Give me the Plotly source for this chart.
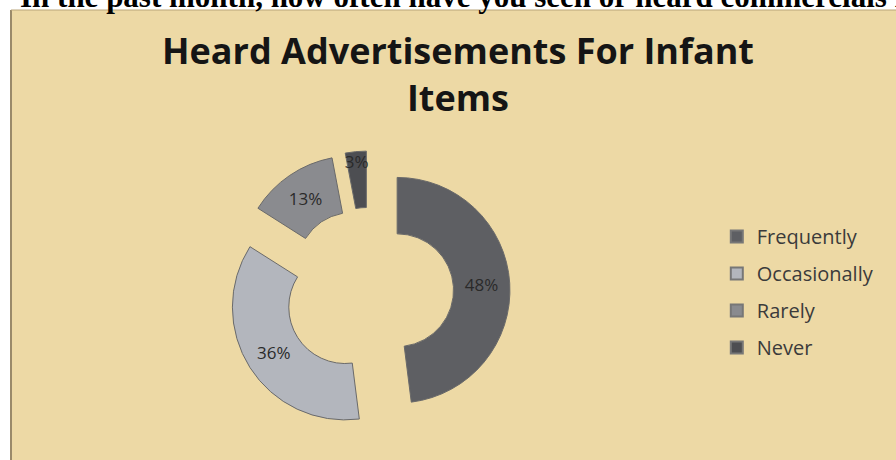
import plotly.graph_objects as go

# Survey answers and their shares (percent)
labels = ["Frequently", "Occasionally", "Rarely", "Never"]
shares = [48, 36, 13, 3]
slice_colors = ["#5e5f63", "#b3b6bd", "#8a8b8f", "#4d4e52"]
title_text = "Heard Advertisements For Infant<br>Items"
question_text = "In the past month, how often have you seen or heard commercials for infant items?"

W, H = 896, 460
PARCHMENT = "#edd9a5"

fig = go.Figure()

# Exploded doughnut, clockwise from 12 o'clock
cx, cy, half = 369, 292, 141
fig.add_trace(go.Pie(
    labels=labels,
    values=shares,
    hole=0.5,
    sort=False,
    direction="clockwise",
    rotation=0,
    pull=[0.25] * len(shares),
    marker=dict(colors=slice_colors, line=dict(color="#6a6a6a", width=1)),
    texttemplate="%{value}%",
    textposition="inside",
    insidetextorientation="horizontal",
    textfont=dict(family="Open Sans, sans-serif", size=17, color="#2a2a2a"),
    showlegend=False,
    hoverinfo="label+percent",
    domain=dict(x=[(cx - half) / W, (cx + half) / W],
                y=[(H - cy - half) / H, (H - cy + half) / H]),
))

# Legend entries (one group each so the rows are spaced out)
for name, col in zip(labels, slice_colors):
    fig.add_trace(go.Scatter(
        x=[None], y=[None], mode="markers", name=name,
        legendgroup=name,
        marker=dict(symbol="square", size=10, color=col,
                    line=dict(color="#777777", width=1)),
    ))

fig.update_layout(
    width=W, height=H,
    margin=dict(l=0, r=0, t=0, b=0),
    paper_bgcolor="white",
    plot_bgcolor="rgba(0,0,0,0)",
    xaxis=dict(visible=False),
    yaxis=dict(visible=False),
    uniformtext=dict(minsize=17, mode="show"),
    legend=dict(
        x=0.8, y=(H - 217) / H, xanchor="left", yanchor="top",
        bgcolor="rgba(0,0,0,0)",
        font=dict(family="Open Sans, sans-serif", size=20, color="#3b3b3b"),
        traceorder="grouped", tracegroupgap=8,
        itemsizing="constant",
    ),
    shapes=[
        dict(type="rect", xref="paper", yref="paper",
             x0=11 / W, x1=1.0, y0=0, y1=(H - 10) / H,
             fillcolor=PARCHMENT, line=dict(width=0), layer="below"),
        dict(type="line", xref="paper", yref="paper",
             x0=11 / W, x1=11 / W, y0=0, y1=(H - 10) / H,
             line=dict(color="#9a8a6a", width=2), layer="below"),
        dict(type="line", xref="paper", yref="paper",
             x0=11 / W, x1=1.0, y0=(H - 10) / H, y1=(H - 10) / H,
             line=dict(color="#b9a57a", width=1), layer="below"),
    ],
    annotations=[
        dict(text=title_text, xref="paper", yref="paper",
             x=458 / W, y=(H - 24) / H, xanchor="center", yanchor="top",
             showarrow=False, align="center",
             font=dict(family="Open Sans, sans-serif", size=36, color="#151515",
                       weight="bold")),
        dict(text=question_text, xref="paper", yref="paper",
             x=18 / W, y=1 - 16 / H, xanchor="left", yanchor="bottom",
             showarrow=False, align="left",
             font=dict(family="Liberation Serif, serif", size=31, color="black",
                       weight="bold")),
    ],
)

fig.write_html("out.html")
